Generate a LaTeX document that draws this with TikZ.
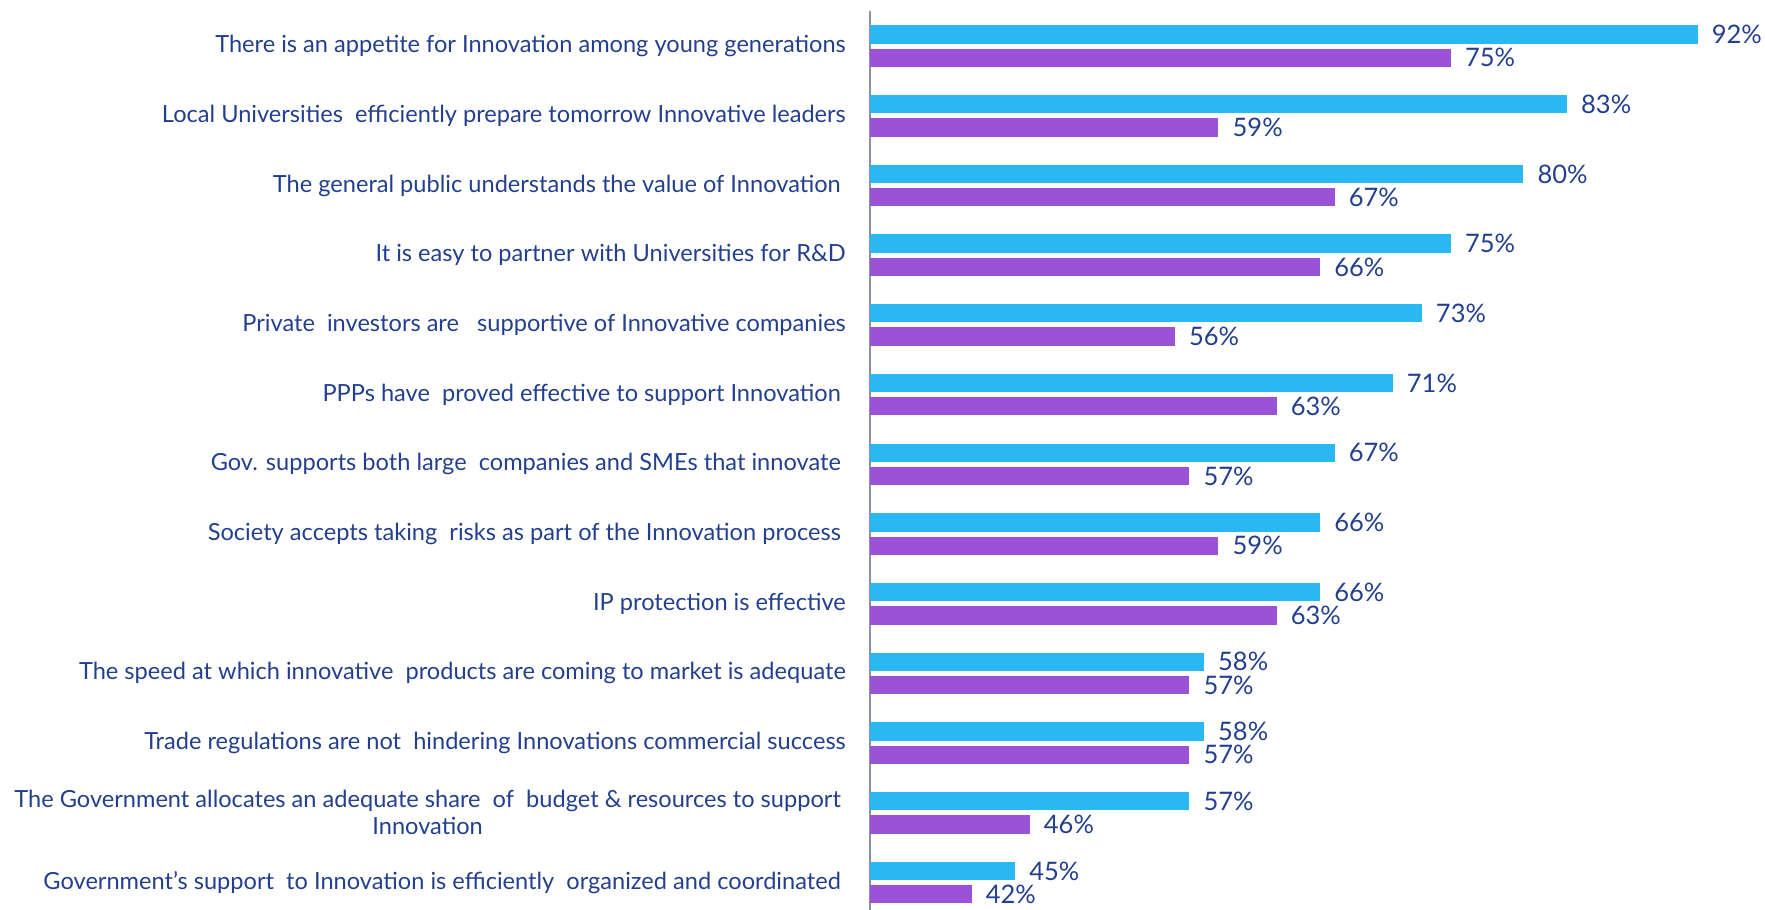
\documentclass[tikz,border=0pt]{standalone}
\usepackage{fontspec}
\setmainfont{Lato}
\definecolor{txt}{RGB}{35,64,143}
\definecolor{bblue}{RGB}{41,184,242}
\definecolor{bpurple}{RGB}{155,82,214}
\definecolor{axisc}{RGB}{140,143,176}
\begin{document}
\begin{tikzpicture}[x=1pt,y=-1pt,
  catlab/.style={anchor=east,text=txt,font=\fontsize{23.6}{27}\selectfont,inner sep=0pt},
  pctlab/.style={anchor=west,text=txt,font=\fontsize{25.5}{28}\selectfont,inner sep=0pt},
  bluebar/.style={fill=bblue},
  purplebar/.style={fill=bpurple}]
\useasboundingbox (0,0) rectangle (1765,910);
\coordinate (axtop) at (870,11);
\coordinate (axbot) at (870,910);
\draw[axisc,line width=2pt] (axtop) -- (axbot);
\foreach \i/\b/\p/\dx/\lab in {
 0/92/75/0/{There is an appetite for Innovation among young generations},
 1/83/59/0/{Local Universities\ \ efficiently prepare tomorrow Innovative leaders},
 2/80/67/-5/{The general public understands the value of Innovation},
 3/75/66/0/{It is easy to partner with Universities for R\&D},
 4/73/56/0/{Private\ \ investors are\ \ \ supportive of Innovative companies},
 5/71/63/-5/{PPPs have\ \ proved effective to support Innovation},
 6/67/57/-5/{Gov. supports both large\ \ companies and SMEs that innovate},
 7/66/59/-5/{Society accepts taking\ \ risks as part of the Innovation process},
 8/66/63/0/{IP protection is effective},
 9/58/57/0/{The speed at which innovative\ \ products are coming to market is adequate},
 10/58/57/0/{Trade regulations are not\ \ hindering Innovations commercial success},
 12/45/42/-5/{Government’s support\ \ to Innovation is efficiently\ \ organized and coordinated}}{
  \pgfmathsetmacro{\bt}{25.3+69.7*\i}
  \pgfmathsetmacro{\bx}{870+14.52*(\b-35)}
  \pgfmathsetmacro{\px}{870+14.52*(\p-35)}
  \fill[bluebar] (870,\bt) rectangle (\bx,\bt+18.3);
  \fill[purplebar] (870,\bt+23.3) rectangle (\px,\bt+41.6);
  \node[pctlab] (b\i) at (\bx+14,\bt+9.2) {\b\%};
  \node[pctlab] (p\i) at (\px+14,\bt+32.5) {\p\%};
  \node[catlab] (l\i) at (846+\dx,\bt+20.8) {\lab};
}
% row 11 (two-line label)
\pgfmathsetmacro{\bt}{25.3+69.7*11}
\pgfmathsetmacro{\bx}{870+14.52*(57-35)}
\pgfmathsetmacro{\px}{870+14.52*(46-35)}
\fill[bluebar] (870,\bt) rectangle (\bx,\bt+18.3);
\fill[purplebar] (870,\bt+23.3) rectangle (\px,\bt+41.6);
\node[pctlab] (b11) at (\bx+14,\bt+9.2) {57\%};
\node[pctlab] (p11) at (\px+14,\bt+32.5) {46\%};
\node[catlab,align=center] (l11) at (841,\bt+20.8) {The Government allocates an adequate share\ \ of\ \ budget \& resources to support\\Innovation};
\end{tikzpicture}
\end{document}
